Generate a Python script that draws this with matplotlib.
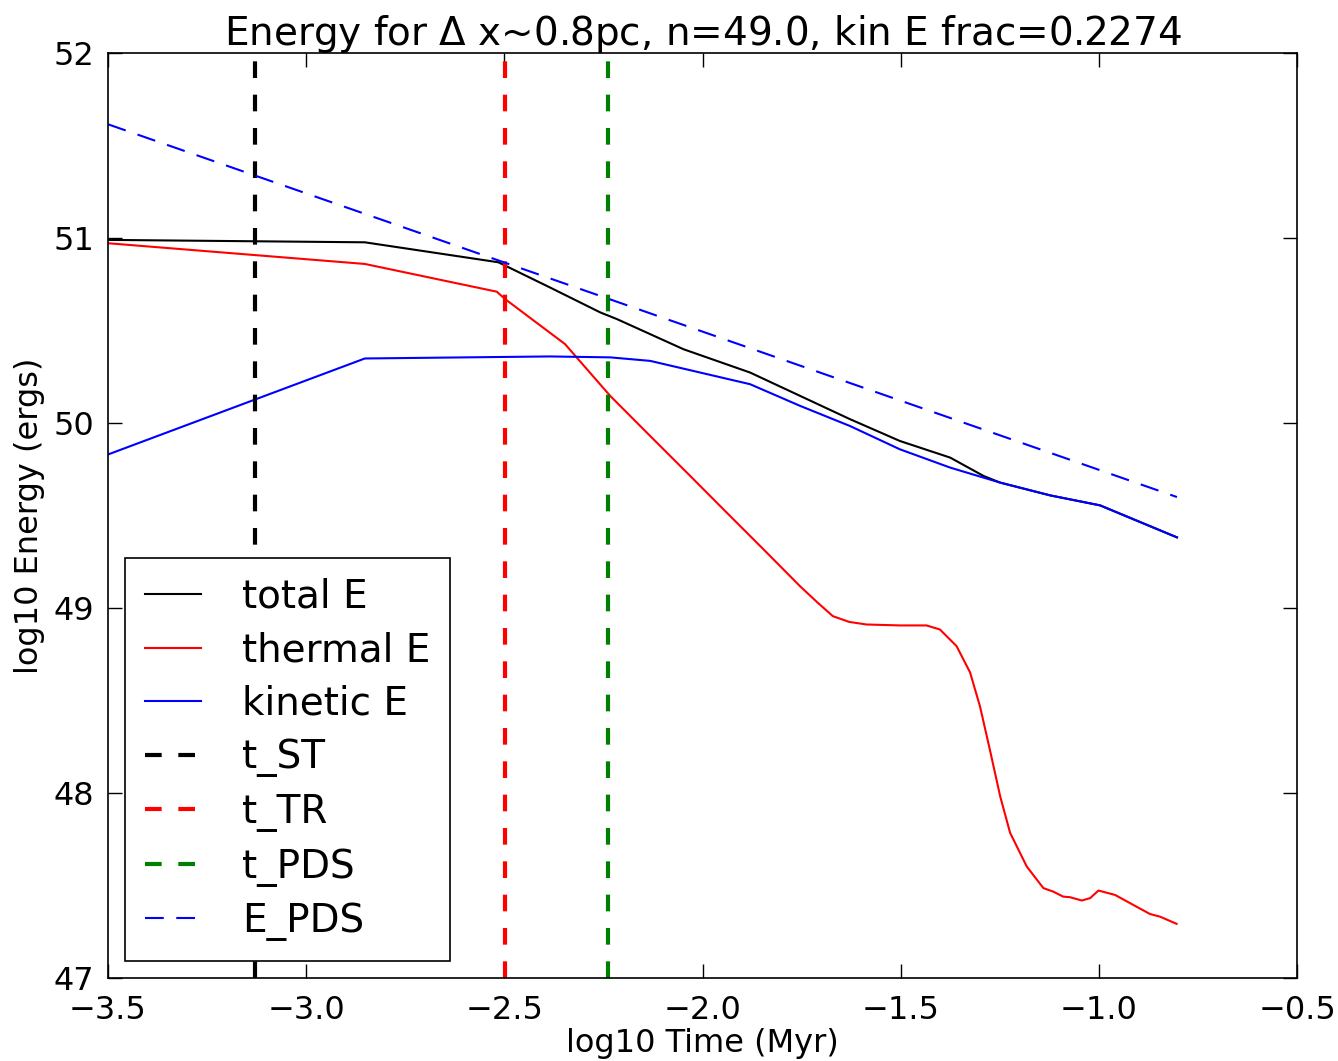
import matplotlib
matplotlib.use("Agg")
import matplotlib.pyplot as plt
import numpy as np

# ---- data ----
total_x = [-3.5, -2.852, -2.515, -2.385, -2.258, -2.216, -2.048, -1.880, -1.754, -1.628,
           -1.502, -1.375, -1.291, -1.249, -1.123, -0.997, -0.803]
total_y = [50.99, 50.977, 50.869, 50.733, 50.598, 50.562, 50.399, 50.273, 50.147, 50.021,
           49.903, 49.813, 49.714, 49.678, 49.609, 49.555, 49.382]

thermal_x = [-3.5, -2.852, -2.519, -2.498, -2.347, -2.233, -2.132, -2.031, -1.939, -1.846,
             -1.754, -1.71, -1.671, -1.63, -1.586, -1.502, -1.435, -1.401, -1.359, -1.325,
             -1.300, -1.275, -1.249, -1.224, -1.182, -1.140, -1.115, -1.090, -1.073, -1.043,
             -1.022, -1.001, -0.959, -0.913, -0.871, -0.846, -0.804]
thermal_y = [50.972, 50.860, 50.710, 50.670, 50.427, 50.147, 49.930, 49.714, 49.516, 49.317,
             49.118, 49.03, 48.956, 48.925, 48.911, 48.906, 48.906, 48.884, 48.794, 48.652,
             48.469, 48.234, 47.982, 47.785, 47.603, 47.486, 47.467, 47.440, 47.437, 47.419,
             47.432, 47.473, 47.449, 47.395, 47.346, 47.332, 47.293]

kinetic_x = [-3.5, -2.852, -2.385, -2.233, -2.132, -2.006, -1.880, -1.754, -1.628, -1.502,
             -1.375, -1.249, -1.123, -0.997, -0.803]
kinetic_y = [49.83, 50.349, 50.360, 50.355, 50.336, 50.273, 50.210, 50.093, 49.984, 49.858,
             49.759, 49.678, 49.609, 49.555, 49.382]

epds_x = [-3.5, -0.803]
epds_y = [51.615, 49.60]

t_ST = -3.129
t_TR = -2.498
t_PDS = -2.238

title = "Energy for $\\Delta$ x~0.8pc, n=49.0, kin E frac=0.2274"

# ---- plot ----
plt.rcParams['font.family'] = ['DejaVu Sans']
plt.rcParams['mathtext.default'] = 'regular'
fig = plt.figure(figsize=(13.38, 10.61), dpi=100)
ax = fig.add_axes([0.0807, 0.0782, 0.8887, 0.8718])

ax.plot(total_x, total_y, color='black', lw=1.5, label='total E')
ax.plot(thermal_x, thermal_y, color='red', lw=1.5, label='thermal E')
ax.plot(kinetic_x, kinetic_y, color='blue', lw=1.5, label='kinetic E')
ax.axvline(t_ST, color='black', lw=3, dashes=(4, 4), label='t_ST')
ax.axvline(t_TR, color='red', lw=3, dashes=(4, 4), label='t_TR')
ax.axvline(t_PDS, color='green', lw=3, dashes=(4, 4), label='t_PDS')
ax.plot(epds_x, epds_y, color='blue', lw=1.5, dashes=(9, 6), label='E_PDS')

ax.set_xlim(-3.5, -0.5)
ax.set_ylim(47, 52)
ax.set_xticks(np.arange(-3.5, -0.49, 0.5))
ax.set_yticks(np.arange(47, 52.1, 1))
ax.tick_params(direction='in', top=True, right=True, length=10, width=1, labelsize=23)
ax.tick_params(axis='x', pad=12)
ax.tick_params(axis='y', pad=10)
for s in ax.spines.values():
    s.set_linewidth(1.2)

ax.set_title(title, fontsize=28, pad=6)
ax.set_xlabel('log10 Time (Myr)', fontsize=23, labelpad=2)
ax.set_ylabel('log10 Energy (ergs)', fontsize=23, labelpad=6)

leg = ax.legend(loc='lower left', fontsize=28, fancybox=False, framealpha=1,
                edgecolor='black', handlelength=1.45, borderaxespad=0.45,
                labelspacing=0.4, handletextpad=1.05, borderpad=0.5)
leg.get_frame().set_linewidth(1.2)

fig.savefig('out.png', dpi=100, facecolor='white')
